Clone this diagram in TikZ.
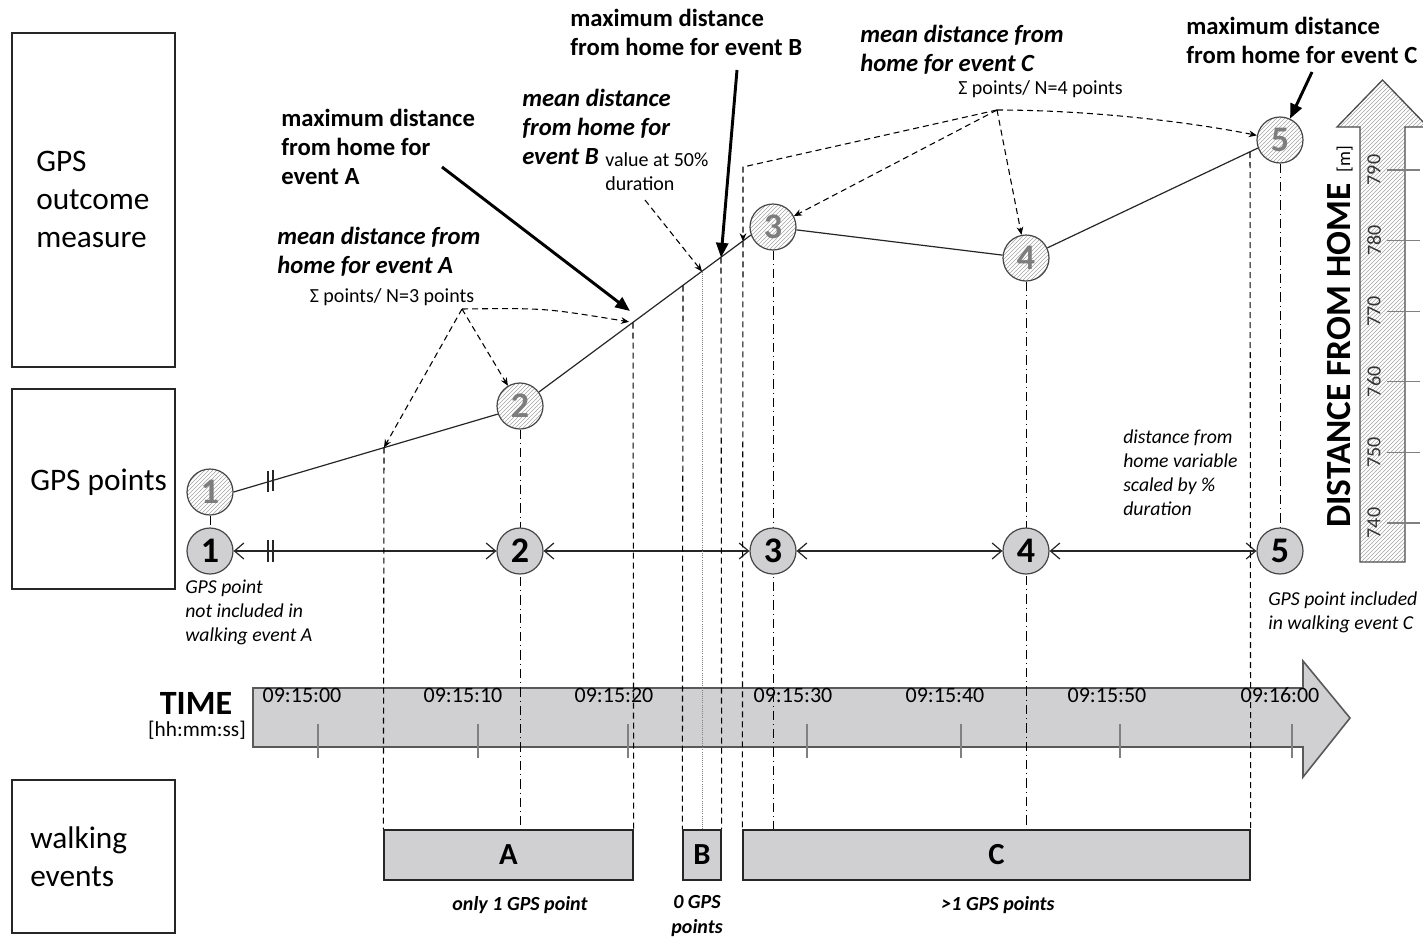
\documentclass[tikz,border=0pt]{standalone}
\usepackage{fontspec}
\setmainfont{Carlito}
\usetikzlibrary{arrows.meta,patterns,calc,backgrounds}

\definecolor{boxgray}{RGB}{208,207,209}
\definecolor{numgray}{RGB}{125,125,125}
\definecolor{edgegray}{RGB}{70,70,70}
\newcommand\myfs[2]{\fontsize{#1}{#2}\selectfont}

\begin{document}
\begin{tikzpicture}[x=0.75pt,y=-0.75pt,
  lbox/.style={draw=black!85, line width=1.1pt, minimum width=122.25pt, inner sep=0},
  bigtxt/.style={font=\myfs{23.5}{28.5}, align=left, inner sep=0, anchor=west},
  ptU/.style={circle, draw=edgegray, line width=0.9pt, minimum size=34.5pt, inner sep=0,
     preaction={fill=white}, pattern=north east lines, pattern color=gray!70,
     font=\myfs{27}{27}\bfseries, text=numgray},
  ptL/.style={circle, draw=edgegray, line width=0.9pt, fill=boxgray, minimum size=34.5pt,
     inner sep=0, font=\myfs{27}{27}\bfseries},
  ev/.style={draw=black!85, line width=1pt, fill=boxgray, inner sep=0, minimum height=37.5pt,
     font=\myfs{23}{23}\bfseries},
  ann/.style={font=\myfs{18.5}{21.75}\bfseries, align=left, inner sep=0, anchor=west},
  anni/.style={font=\myfs{18.5}{21.75}\bfseries\itshape, align=left, inner sep=0, anchor=west},
  note/.style={font=\myfs{14.8}{18}\itshape, align=left, inner sep=0, anchor=west},
  sig/.style={font=\myfs{15}{15}, inner sep=0},
  evlab/.style={font=\myfs{15}{18.75}\bfseries\itshape, inner sep=0, align=center},
  tlab/.style={font=\myfs{16.5}{16.5}, inner sep=0},
  ln/.style={line width=0.9pt, black!85},
  dsh/.style={dash pattern=on 4.5pt off 3pt, line width=0.8pt},
  dshdot/.style={dash pattern=on 7pt off 3pt on 0.8pt off 3pt, line width=0.7pt},
  darr/.style={dsh, -{Stealth[length=6pt,width=5pt]}},
  tarr/.style={line width=2.2pt, -{Triangle[length=11pt,width=9pt]}},
  barb/.style={{Straight Barb[length=7pt,width=12pt]}-{Straight Barb[length=7pt,width=12pt]}, line width=0.9pt, black!85},
]
\useasboundingbox (0,0) rectangle (1423,939);

% left category boxes
\node[lbox, minimum height=250.5pt] (bx1) at (93.5,200) {};
\node[lbox, minimum height=150pt] (bx2) at (93.5,489) {};
\node[lbox, minimum height=114.75pt] (bx3) at (93.5,856.5) {};
\node[bigtxt] (t1) at (36,199) {GPS\\outcome\\measure};
\node[bigtxt] (t2) at (30,482) {GPS points};
\node[bigtxt] (t3) at (30,857) {walking\\events};

% GPS points
\node[ptU] (P1u) at (210,492) {1};
\node[ptU] (P2u) at (520,406) {2};
\node[ptU] (P3u) at (773,227) {3};
\node[ptU] (P4u) at (1026,258) {4};
\node[ptU] (P5u) at (1280,140) {5};
\node[ptL] (L1) at (210,551) {1};
\node[ptL] (L2) at (520,551) {2};
\node[ptL] (L3) at (773,551) {3};
\node[ptL] (L4) at (1026,551) {4};
\node[ptL] (L5) at (1280,551) {5};

% walking events
\node[ev, minimum width=186.75pt] (A) at (508.5,855) {A};
\node[ev, minimum width=28.5pt] (B) at (702,855) {B};
\node[ev, minimum width=380.25pt] (C) at (996.5,855) {C};
\node[evlab] (eA) at (520,905) {only 1 GPS point};
\node[evlab] (eB) at (697,916) {0 GPS\\points};
\node[evlab] (eC) at (998,905) {>1 GPS points};

% coordinates on the distance line
\coordinate (a1) at (384,447.5);
\coordinate (a2) at (633,322.5);
\coordinate (b1) at (683,285.5);
\coordinate (bm) at (702,271.5);
\coordinate (b2) at (721,257.5);
\coordinate (c1) at (743,241.3);
\coordinate (c0) at (743,167);
\coordinate (c2) at (1250,152);
\coordinate (sAo) at (462,309);
\coordinate (sCo) at (997,110);
\coordinate (mxA0) at (442,167);
\coordinate (mxA1) at (630,311);
\coordinate (mxB0) at (737,70);
\coordinate (mxC0) at (1312,72);
\coordinate (v50) at (645,200);

% annotations
\node[ann] (mA) at (281,147) {maximum distance\\from home for\\event A};
\node[anni] (meanA) at (277,252) {mean distance from\\home for event A};
\node[sig] (sigA) at (392,297) {Σ points/ N=3 points};
\node[anni] (meanB) at (522,127) {mean distance\\from home for\\event B};
\node[font=\myfs{15}{18}, align=left, inner sep=0, anchor=west] (v50t) at (605,172) {value at 50\%\\duration};
\node[ann] (mB) at (570,32) {maximum distance\\from home for event B};
\node[anni] (meanC) at (860,50) {mean distance from\\home for event C};
\node[sig, anchor=west] (sigC) at (958,89) {Σ points/ N=4 points};
\node[ann] (mC) at (1186,40) {maximum distance\\from home for event C};
\node[note] (n1) at (185,612) {GPS point\\not included in\\walking event A};
\node[note] (n5) at (1268,612) {GPS point included\\in walking event C};
\node[note] (nd) at (1123,473) {distance from\\home variable\\scaled by \%\\duration};

% thick arrows
\draw[tarr] (mxA0) -- (mxA1);
\draw[tarr] (mxB0) -- (b2);
\draw[tarr] (mxC0) -- (P5u);

% distance-from-home arrow
\draw[draw=black!70, line width=1pt, preaction={fill=white}, pattern=north east lines, pattern color=gray!70]
  (1360,562) -- (1360,127) -- (1337,127) -- (1382.5,80) -- (1428,127) -- (1405,127) -- (1405,562) -- cycle;
\foreach \y/\v in {170/790,240.6/780,311.2/770,381.8/760,452.4/750,523/740}{
  \draw[gray, line width=0.8pt] (1387,\y) -- (1420,\y);
  \node[rotate=90, font=\myfs{15}{15}, text=black!80, inner sep=0] (d\v) at (1374,\y) {\v};
}
\node[rotate=90, anchor=base west, inner sep=0, font=\myfs{26.5}{26.5}\bfseries] (dfh) at (1350,528)
  {DISTANCE FROM HOME {\myfs{14}{14}\mdseries\,[m]}};

\begin{pgfonlayer}{background}
\fill[white] (0,0) rectangle (1423,939);
% timeline
\draw[draw=black!65, line width=1.2pt, fill=boxgray]
  (253,688) -- (1303,688) -- (1303,661) -- (1350,718) -- (1303,777) -- (1303,747) -- (253,747) -- cycle;
\foreach \x in {318,478,628,807,961,1120,1292}
  \draw[gray, line width=0.8pt] (\x,724) -- (\x,758);
\foreach \x/\t [count=\i] in {302/09:15:00, 463/09:15:10, 614/09:15:20, 793/09:15:30, 945/09:15:40, 1107/09:15:50, 1280/09:16:00}
  \node[tlab] (tl\i) at (\x,695) {\t};
\node[font=\myfs{25.5}{25.5}\bfseries, inner sep=0] (time) at (196,703) {TIME};
\node[font=\myfs{16}{16}, inner sep=0] (timeu) at (197,730) {[hh:mm:ss]};

% distance line
\draw[ln] (P1u.east) -- (P2u.200);
\draw[ln] (P2u) -- (P3u.200);
\draw[ln] (P3u) -- (P4u);
\draw[ln] (P4u) -- (P5u.200);
\draw[ln] (268,471) -- (268,492) (273,470) -- (273,491);

% timeline of points
\draw[barb] (L1) -- (L2);
\draw[barb] (L2) -- (L3);
\draw[barb] (L3) -- (L4);
\draw[barb] (L4) -- (L5);
\draw[ln] (268,540) -- (268,562) (273,540) -- (273,562);

% vertical lines
\draw[dsh] (a1) -- (A.north west);
\draw[dsh] (a2) -- (A.north east);
\draw[dsh] (b1) -- (B.north west);
\draw[gray, line width=0.6pt, densely dotted] (bm) -- (B.north);
\draw[dsh] (b2) -- (B.north east);
\draw[dsh] (c1) -- (C.north west);
\draw[dsh] (c2) -- (C.north east);
\draw[dshdot] (P1u) -- (L1);
\draw[dshdot] (P2u) -- (P2u |- A.north);
\draw[dshdot] (P3u) -- (P3u |- C.north);
\draw[dshdot] (P4u) -- (P4u |- C.north);
\draw[dshdot] (P5u) -- (L5);

% dashed pointer arrows
\draw[darr] (sAo) -- (a1);
\draw[darr] (sAo) -- (P2u);
\draw[darr, shorten >=3pt] (sAo) .. controls (545,308) .. (a2);
\draw[darr] (v50) -- (bm);
\draw[darr] (sCo) -- (c0) -- (c1);
\draw[darr] (sCo) -- (P3u);
\draw[darr] (sCo) -- (P4u);
\draw[darr] (sCo) .. controls (1080,110) and (1180,120) .. (P5u);
\end{pgfonlayer}
\end{tikzpicture}
\end{document}
